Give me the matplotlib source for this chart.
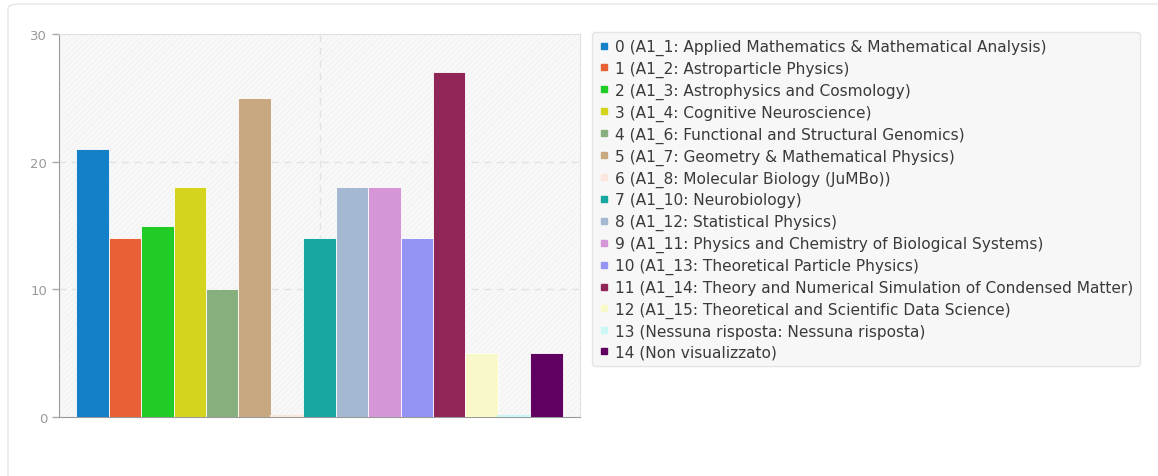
import matplotlib
matplotlib.use("Agg")
import matplotlib.pyplot as plt
from matplotlib.lines import Line2D
from matplotlib.patches import FancyBboxPatch, Rectangle
import numpy as np

## risposte per gruppo
labels = [
    "0 (A1_1: Applied Mathematics & Mathematical Analysis)",
    "1 (A1_2: Astroparticle Physics)",
    "2 (A1_3: Astrophysics and Cosmology)",
    "3 (A1_4: Cognitive Neuroscience)",
    "4 (A1_6: Functional and Structural Genomics)",
    "5 (A1_7: Geometry & Mathematical Physics)",
    "6 (A1_8: Molecular Biology (JuMBo))",
    "7 (A1_10: Neurobiology)",
    "8 (A1_12: Statistical Physics)",
    "9 (A1_11: Physics and Chemistry of Biological Systems)",
    "10 (A1_13: Theoretical Particle Physics)",
    "11 (A1_14: Theory and Numerical Simulation of Condensed Matter)",
    "12 (A1_15: Theoretical and Scientific Data Science)",
    "13 (Nessuna risposta: Nessuna risposta)",
    "14 (Non visualizzato)",
]
values = [21, 14, 15, 18, 10, 25, 0, 14, 18, 18, 14, 27, 5, 0, 5]
colors = ["#1380c8", "#e86035", "#20cc25", "#d4d41e", "#88b07e", "#c8a880",
          "#fbe6de", "#17a8a0", "#a5b8d2", "#d496d6", "#9494f4", "#902658",
          "#f8f8c8", "#ccf6f6", "#600060"]
yticks = [0, 10, 20, 30]

plt.rcParams['hatch.linewidth'] = 0.5
fig = plt.figure(figsize=(11.58, 4.77), dpi=100)

# card border
card = FancyBboxPatch((8/1158, -0.05), 1.2, 1 - 5/477 + 0.05, boxstyle="round,pad=0,rounding_size=0.01",
                      transform=fig.transFigure, facecolor="white", edgecolor="#e6e6e6", lw=1, zorder=-10)
fig.patches.append(card)

ax = fig.add_axes([59/1158, 1 - 418/477, (580 - 59)/1158, (418 - 35)/477])
ax.set_facecolor("#f8f8f8")
ax.add_patch(Rectangle((0, 0), 1, 1, transform=ax.transAxes, facecolor="none",
                       edgecolor="#efefef", hatch="//////", lw=0, zorder=0))

x = np.arange(len(values))
ax.bar(x, values, width=1.0, color=colors, edgecolor="#ffffff", linewidth=0.6, zorder=3)
# zero bars show as a thin line
for i, v in enumerate(values):
    if v == 0:
        ax.plot([i - 0.5, i + 0.5], [0.08, 0.08], color=colors[i], lw=1.5, zorder=3)

ax.set_xlim(-1.04, 15.04)
ax.set_ylim(0, 30)
ax.set_yticks(yticks)
ax.set_xticks([])
ax.tick_params(axis='y', colors="#aaaaaa", labelcolor="#999999", labelsize=9.5, length=5, width=1)
for y in [10, 20]:
    ax.axhline(y, color="#e2e2e2", lw=1, ls=(0, (5, 4)), zorder=1)
ax.axvline(7, color="#e2e2e2", lw=1, ls=(0, (5, 4)), zorder=1)
ax.spines['left'].set_color("#999999")
ax.spines['bottom'].set_color("#999999")
ax.spines['top'].set_color("#e0e0e0")
ax.spines['right'].set_color("#e0e0e0")

handles = [Line2D([], [], marker='s', ls='none', color=c, markersize=4.5) for c in colors]
leg = fig.legend(handles, labels, loc='upper left', bbox_to_anchor=(592/1158, 1 - 33/477),
                 fontsize=11.1, frameon=True, fancybox=True, facecolor="#f7f7f7", edgecolor="#e4e4e4",
                 framealpha=1, handlelength=0.6, handletextpad=0.45, labelspacing=0.37,
                 borderpad=0.45, borderaxespad=0)
for t in leg.get_texts():
    t.set_color("#3a3a3a")

plt.savefig("out.png", dpi=100)
